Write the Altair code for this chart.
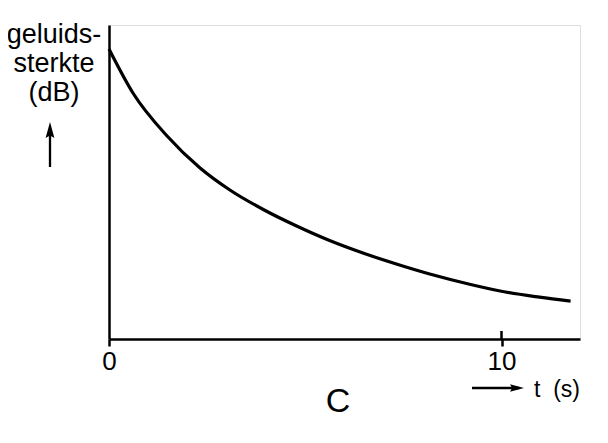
import altair as alt
import pandas as pd

# curve readings (t in s, height above axis in plot units)
t_vals = [0, 0.61, 1.48, 2.32, 3.08, 3.93, 4.78, 5.62, 6.47, 7.32, 8.17, 9.24, 10.1, 10.97, 11.76]
level_vals = [290, 246, 203, 171, 149, 129.5, 113, 98.5, 86, 75, 65, 54.3, 47, 41.8, 37.8]
x_ticks = [0, 10]
y_title_lines = "geluids-\nsterkte\n(dB)"
x_title = "t\u00a0\u00a0(s)"
panel_label = "C"

FONT = "Liberation Sans"
W, H = 471, 314

df = pd.DataFrame({"t": t_vals, "level": level_vals})

xs = alt.Scale(domain=[0, 12], nice=False)
ys = alt.Scale(domain=[0, 314], nice=False, zero=True)

curve = alt.Chart(df).mark_line(color="black", strokeWidth=3.2, interpolate="monotone").encode(
    x=alt.X("t:Q", scale=xs, axis=alt.Axis(values=x_ticks, tickSize=7, tickWidth=2.5, tickColor="black",
                                          domainColor="black", domainWidth=2.5, grid=False,
                                          labelFontSize=26, labelFont=FONT, labelColor="black",
                                          labelPadding=2, labelFlush=False, title="")),
    y=alt.Y("level:Q", scale=ys, axis=alt.Axis(labels=False, ticks=False, grid=False,
                                              domainColor="black", domainWidth=2.5, title="")),
)

one = pd.DataFrame({"a": [0]})

tick10 = alt.Chart(pd.DataFrame({"t": [10], "y0": [0], "y1": [8]})).mark_rule(
    color="black", strokeWidth=2.5).encode(
    x=alt.X("t:Q", scale=xs), y=alt.Y("y0:Q", scale=ys), y2="y1:Q")

ytitle = alt.Chart(one).mark_text(font=FONT, fontSize=27, align="center", baseline="alphabetic",
                                  lineBreak="\n", lineHeight=29, color="black").encode(
    x=alt.value(-55), y=alt.value(18), text=alt.value(y_title_lines))

up_shaft = alt.Chart(one).mark_rule(color="black", strokeWidth=2.3).encode(
    x=alt.value(-59), y=alt.value(142), y2=alt.value(108))
up_head = alt.Chart(one).mark_point(shape="M0,-1L0.55,1L0,0.7L-0.55,1Z", filled=True, opacity=1,
                                    color="black", size=256).encode(
    x=alt.value(-59), y=alt.value(105))

right_shaft = alt.Chart(one).mark_rule(color="black", strokeWidth=2.3).encode(
    x=alt.value(363), x2=alt.value(410), y=alt.value(363))
right_head = alt.Chart(one).mark_point(shape="M1,0L-1,0.55L-0.7,0L-1,-0.55Z", filled=True, opacity=1,
                                       color="black", size=196).encode(
    x=alt.value(408), y=alt.value(363))

xtitle = alt.Chart(one).mark_text(font=FONT, fontSize=23, align="left", baseline="alphabetic",
                                  color="black").encode(
    x=alt.value(425), y=alt.value(372), text=alt.value(x_title))

clabel = alt.Chart(one).mark_text(font=FONT, fontSize=34, align="center", baseline="alphabetic",
                                  color="black").encode(
    x=alt.value(229), y=alt.value(387), text=alt.value(panel_label))

chart = alt.layer(curve, tick10, ytitle, up_shaft, up_head, right_shaft, right_head, xtitle, clabel).properties(
    width=W, height=H,
    autosize=alt.AutoSizeParams(type="none"),
    padding={"left": 101, "top": 17, "right": 20, "bottom": 80},
).configure_view(stroke=None).configure(background="white")

chart.save("out.html", embed_options={"renderer": "svg", "actions": False})
